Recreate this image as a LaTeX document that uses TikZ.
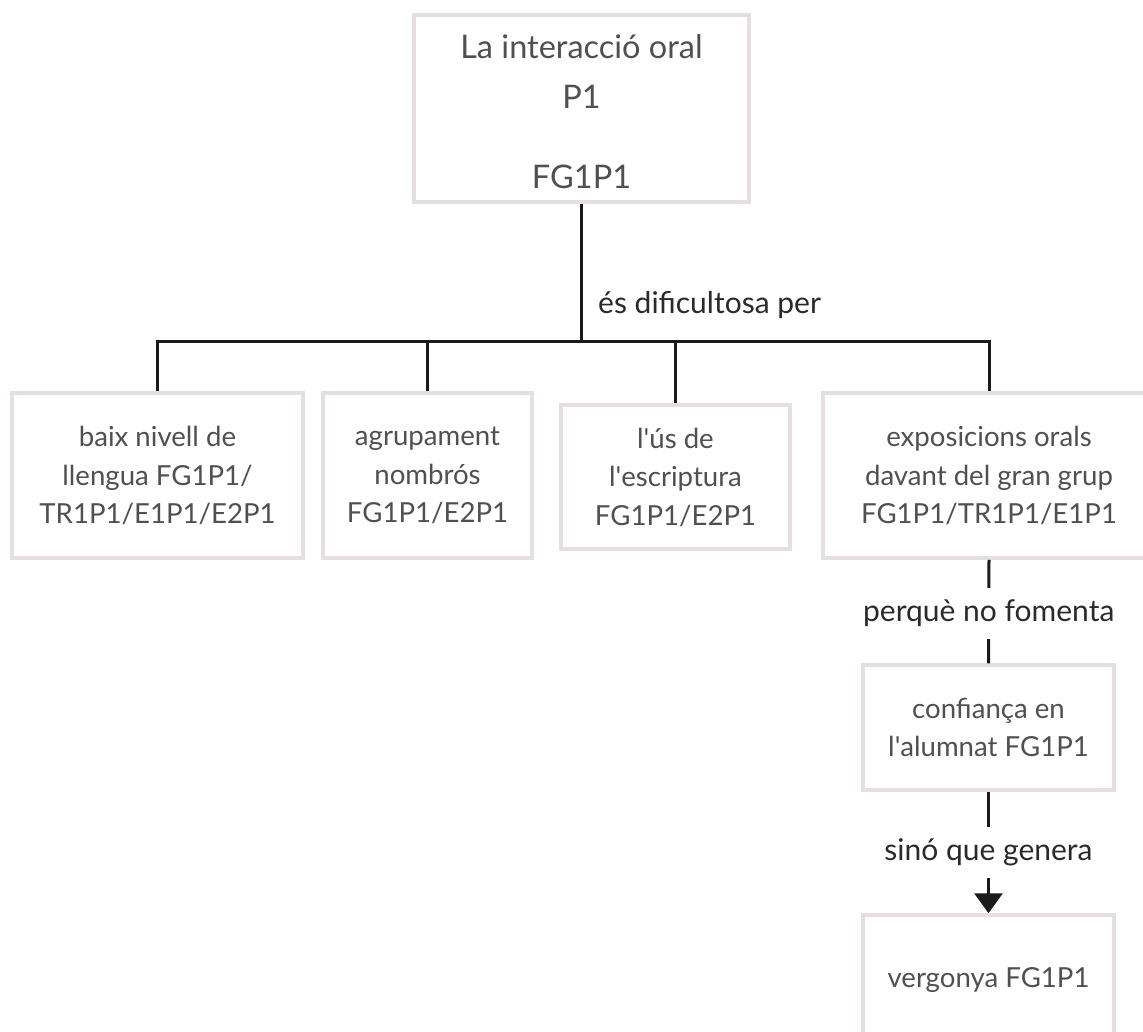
\documentclass[tikz,border=0pt]{standalone}
\usepackage{fontspec}
\setmainfont{Lato}
\usetikzlibrary{arrows.meta}
\definecolor{boxline}{HTML}{E6DFE2}
\definecolor{boxtext}{HTML}{505050}
\definecolor{labeltext}{HTML}{2A2A2A}
\definecolor{wire}{HTML}{1A1A1A}
\newcommand{\apos}{\textquotesingle}
\tikzset{
  concept/.style={draw=boxline, line width=3.5pt, fill=white, text=boxtext,
    align=center, inner sep=0pt,
    font=\fontsize{27.6}{38.5}\selectfont},
  conn/.style={draw=wire, line width=3pt},
  linklabel/.style={text=labeltext, font=\fontsize{30}{34}\selectfont,
    inner sep=0pt},
  gaplabel/.style={linklabel, fill=white, minimum height=51pt, inner xsep=3pt}
}
\begin{document}
\begin{tikzpicture}[x=1pt, y=1pt]
  \useasboundingbox (0,0) rectangle (1143,-1032);
  \clip (0,0) rectangle (1143,-1032);
  \fill[white] (0,0) rectangle (1143,-1032);

  % root concept
  \node[concept, minimum width=335pt, minimum height=187pt,
        font=\fontsize{32.5}{50}\selectfont] (root) at (581.5,-108.5) {};
  \node[text=boxtext, align=center, inner sep=0pt,
        font=\fontsize{32.5}{50}\selectfont] (roottxt) at (581.5,-112)
        {La interacció oral\\P1\\[30pt]FG1P1};

  % first level
  \node[concept, minimum width=291pt, minimum height=165pt] (b1) at (157.5,-475.5)
        {baix nivell de\\llengua FG1P1/\\TR1P1/E1P1/E2P1};
  \node[concept, minimum width=209pt, minimum height=165pt] (b2) at (427.5,-475.5)
        {agrupament\\nombrós\\FG1P1/E2P1};
  \node[concept, minimum width=229pt, minimum height=144pt] (b3) at (675.5,-477)
        {l\apos ús de\\l\apos escriptura\\FG1P1/E2P1};
  \node[concept, minimum width=332pt, minimum height=165pt] (b4) at (989,-475.5)
        {exposicions orals\\davant del gran grup\\FG1P1/TR1P1/E1P1};

  % chain below
  \node[concept, minimum width=251pt, minimum height=125pt] (b5) at (988.5,-727.5)
        {confiança en\\l\apos alumnat FG1P1};
  \node[concept, minimum width=251pt, minimum height=130pt] (b6) at (988.5,-980)
        {vergonya FG1P1};

  % tree connectors
  \coordinate (j) at (581.5,-341);
  \draw[conn] (root.south) -- (j);
  \draw[conn] (b1.north) -- (b1.north |- j) -- (b4.north |- j) -- (b4.north);
  \draw[conn] (b2.north) -- (b2.north |- j);
  \draw[conn] (b3.north) -- (b3.north |- j);
  \node[linklabel, anchor=west] (lbl1) at (598,-305) {és dificultosa per};

  % chain connectors
  \draw[conn] (b4.south) -- (b5.north)
     node[gaplabel, pos=0.52] (lbl2) {perquè no fomenta};
  \draw[conn, -{Triangle[width=28pt, length=20pt]}] (b5.south) -- (b6.north)
     node[gaplabel, pos=0.5] (lbl3) {sinó que genera};
\end{tikzpicture}
\end{document}
